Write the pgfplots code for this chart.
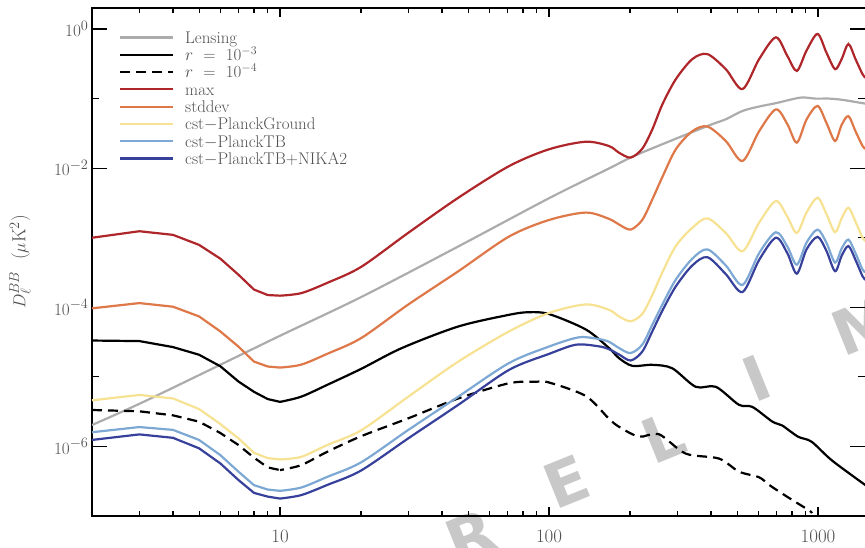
\documentclass[border=0pt]{standalone}
\usepackage{fontspec}
\usepackage{pgfplots}
\pgfplotsset{compat=1.18}
\newfontfamily\wmfont{DejaVu Sans}
\definecolor{clens}{RGB}{172,172,172}
\definecolor{cmax}{RGB}{175,38,42}
\definecolor{cstd}{RGB}{222,120,72}
\definecolor{cground}{RGB}{246,226,146}
\definecolor{ctb}{RGB}{125,168,212}
\definecolor{cnika}{RGB}{55,65,155}
\definecolor{txt}{RGB}{80,80,80}
\definecolor{wm}{RGB}{200,200,200}
\begin{document}
\begin{tikzpicture}
% watermark letters (PRELIMINARY)
\begin{scope}[every node/.style={font=\wmfont\bfseries\fontsize{62}{62}\selectfont, text=wm, rotate=22, inner sep=0pt}]
\node at (283bp,-76bp) {P};
\node at (379bp,-21bp) {R};
\node at (474.7bp,34.3bp) {E};
\node at (571bp,79bp) {L};
\node at (664.7bp,138bp) {I};
\node at (772bp,191bp) {M};
\end{scope}
\begin{axis}[
  at={(0bp,0bp)}, anchor=south west,
  scale only axis, width=773.4bp, height=507.9bp,
  xmode=log, ymode=log,
  xmin=2, xmax=1500, ymin=1e-7, ymax=2,
  xtick={10,100,1000}, xticklabels={10,100,1000},
  minor xtick={3,4,5,6,7,8,9,20,30,40,50,60,70,80,90,200,300,400,500,600,700,800,900},
  ytick={1e-6,1e-4,1e-2,1},
  minor ytick={1e-7,1e-5,1e-3,1e-1},
  tick align=inside, tick pos=both,
  major tick length=15bp, minor tick length=7bp,
  major x tick style={/pgfplots/major tick length=9bp},
  minor x tick style={/pgfplots/minor tick length=5bp},
  every tick/.style={black, line width=1.1bp},
  axis line style={black, line width=1.2bp},
  tick label style={font=\fontsize{19}{19}\selectfont, text=txt},
  xticklabel style={yshift=-10bp},
  ylabel={$D_\ell^{BB}$\ \ ($\mu$K$^2$)},
  ylabel style={at={(axis description cs:-0.0931,0.5)}, anchor=center, font=\fontsize{19}{19}\selectfont, text=txt},
  every axis plot/.append style={line width=2.2bp},
  no markers,
  legend cell align=left,
  legend image code/.code={\draw[#1] (0bp,1.65bp) -- (53bp,1.65bp);},
  legend style={at={(0,1)}, anchor=north west, xshift=27bp, yshift=-23.15bp,
    draw=none, fill=none, inner sep=0pt, outer sep=0pt, row sep=1.6bp, column sep=11bp,
    font=\fontsize{17}{17}\selectfont, text=txt,
    nodes={inner sep=0pt, text height=12bp, text depth=3.7bp, font=\fontsize{17}{17}\selectfont, text=txt}},
]
% Lensing
\addplot[clens, smooth] coordinates {
(2,2.03e-6)(3,4.1e-6)(5,1.06e-5)(10,3.9e-5)(20,1.4e-4)(46,7.5e-4)(100,3.7e-3)(167,9.9e-3)(204,1.46e-2)(272,2.32e-2)(392,4.1e-2)(454,5.05e-2)(524,6.65e-2)(604,7.7e-2)(697,8.6e-2)(802,9.8e-2)(875,0.104)(980,0.1)(1099,0.1)(1231,9.6e-2)(1463,8.6e-2)(1500,8.5e-2)};
\addlegendentry{Lensing}
% r = 1e-3
\addplot[black] coordinates {(2,3.33e-5)(3,3.27e-5)(4,2.68e-5)(5,2.08e-5)(6,1.42e-5)(7,8.6e-6)(8,6.1e-6)(9,4.8e-6)(10,4.37e-6)};
\addlegendentry{$r$\ \ =\ \ 10$^{-3}$}
\addplot[black, smooth, forget plot] coordinates {
(10,4.37e-6)(12,5.2e-6)(15,7.7e-6)(20,1.3e-5)(28.4,2.6e-5)(46,5.3e-5)(71,7.8e-5)(84,8.5e-5)(100,8.0e-5)(137,4.8e-5)(167,2.6e-5)(182,1.86e-5)(204,1.44e-5)(242,1.49e-5)(287,1.33e-5)(351,7.2e-6)(417,7.2e-6)(508,3.97e-6)(570,3.7e-6)(677,2.27e-6)(736,2.0e-6)(843,1.38e-6)(946,1.17e-6)(1126,6.3e-7)(1500,2.78e-7)};
% r = 1e-4
\addplot[black, dash pattern=on 10bp off 6bp] coordinates {(2,3.34e-6)(3,3.2e-6)(4,2.8e-6)(5,2.27e-6)(6,1.56e-6)(7,1.05e-6)(8,6.9e-7)(9,5.0e-7)(10,4.57e-7)};
\addlegendentry{$r$\ \ =\ \ 10$^{-4}$}
\addplot[black, dash pattern=on 10bp off 6bp, dash phase=6bp, smooth, forget plot] coordinates {
(10,4.57e-7)(12,5.4e-7)(15,8.4e-7)(20,1.4e-6)(30,2.54e-6)(46,4.9e-6)(71,8.1e-6)(89,8.5e-6)(100,8.3e-6)(137,5.3e-6)(167,2.5e-6)(182,1.92e-6)(216,1.38e-6)(256,1.5e-6)(322,7.9e-7)(428,6.7e-7)(508,4.35e-7)(604,3.6e-7)(658,2.8e-7)(736,2.1e-7)(802,1.7e-7)(927,1.2e-7)(950,1.1e-7)};
% max
\addplot[cmax] coordinates {(2,1.0e-3)(3,1.24e-3)(4,1.1e-3)(5,7.9e-4)(6,5.0e-4)(7,2.95e-4)(8,1.8e-4)(9,1.5e-4)(10,1.47e-4)};
\addlegendentry{max}
\addplot[cmax, smooth, forget plot] coordinates {
(10,1.47e-4)(12,1.6e-4)(15,2.25e-4)(20,3.8e-4)(30,1.18e-3)(46,3.76e-3)(71,1.07e-2)(100,1.87e-2)(137,2.4e-2)(167,2.08e-2)(182,1.67e-2)(201,1.42e-2)(222,1.9e-2)(242,3.6e-2)(264,8.3e-2)(296,0.19)(341,0.37)(388,0.436)(454,0.265)(524,0.137)(604,0.37)(697,0.76)(769,0.41)(834,0.25)(906,0.49)(996,0.85)(1074,0.46)(1157,0.265)(1224,0.37)(1297,0.61)(1378,0.37)(1463,0.225)(1500,0.2)};
% stddev
\addplot[cstd] coordinates {(2,9.66e-5)(3,1.15e-4)(4,1.02e-4)(5,7.4e-5)(6,4.5e-5)(7,2.73e-5)(8,1.66e-5)(9,1.41e-5)(10,1.36e-5)};
\addlegendentry{stddev}
\addplot[cstd, smooth, forget plot] coordinates {
(10,1.36e-5)(12,1.5e-5)(15,2.15e-5)(20,3.6e-5)(30,1.1e-4)(46,3.3e-4)(71,1.04e-3)(100,1.8e-3)(137,2.3e-3)(167,1.87e-3)(182,1.55e-3)(201,1.31e-3)(222,1.8e-3)(242,3.55e-3)(264,7.5e-3)(296,1.87e-2)(341,3.4e-2)(388,3.97e-2)(454,2.46e-2)(524,1.27e-2)(604,3.4e-2)(697,7.0e-2)(769,4.3e-2)(834,2.33e-2)(906,5.0e-2)(996,7.85e-2)(1074,4.5e-2)(1157,2.46e-2)(1224,4.2e-2)(1297,5.6e-2)(1378,3.4e-2)(1463,2.09e-2)(1500,1.9e-2)};
% cst-PlanckGround
\addplot[cground] coordinates {(2,4.6e-6)(3,5.5e-6)(4,4.9e-6)(5,3.45e-6)(6,2.1e-6)(7,1.31e-6)(8,8.1e-7)(9,6.8e-7)(10,6.5e-7)};
\addlegendentry{cst$-$PlanckGround}
\addplot[cground, smooth, forget plot] coordinates {
(10,6.5e-7)(12,7.1e-7)(15,1.05e-6)(20,1.7e-6)(30,5.2e-6)(46,1.66e-5)(71,4.5e-5)(100,8.3e-5)(137,1.1e-4)(167,9.2e-5)(182,7.4e-5)(201,6.3e-5)(222,8.0e-5)(242,1.5e-4)(264,3.2e-4)(296,7.6e-4)(341,1.39e-3)(388,1.9e-3)(454,1.17e-3)(524,6.4e-4)(604,1.65e-3)(697,3.37e-3)(769,2.0e-3)(834,1.17e-3)(906,2.3e-3)(996,3.76e-3)(1074,2.2e-3)(1157,1.2e-3)(1224,1.9e-3)(1297,2.7e-3)(1378,1.7e-3)(1463,1.0e-3)(1500,9e-4)};
% cst-PlanckTB
\addplot[ctb] coordinates {(2,1.6e-6)(3,1.9e-6)(4,1.73e-6)(5,1.24e-6)(6,7.5e-7)(7,4.35e-7)(8,2.78e-7)(9,2.4e-7)(10,2.3e-7)};
\addlegendentry{cst$-$PlanckTB}
\addplot[ctb, smooth, forget plot] coordinates {
(10,2.3e-7)(12,2.57e-7)(15,3.66e-7)(20,5.9e-7)(30,1.73e-6)(46,5.2e-6)(71,1.58e-5)(100,2.73e-5)(129,3.7e-5)(153,3.5e-5)(167,3.2e-5)(182,2.6e-5)(201,2.2e-5)(222,2.9e-5)(242,5.6e-5)(264,1.1e-4)(296,2.5e-4)(341,5.0e-4)(388,6.8e-4)(454,4.0e-4)(524,2.1e-4)(604,6.0e-4)(697,1.2e-3)(769,7.5e-4)(834,4.1e-4)(906,8.5e-4)(996,1.31e-3)(1074,8.5e-4)(1157,4.4e-4)(1224,7.0e-4)(1297,9.4e-4)(1378,6.0e-4)(1463,3.5e-4)(1500,3.2e-4)};
% cst-PlanckTB+NIKA2
\addplot[cnika] coordinates {(2,1.24e-6)(3,1.49e-6)(4,1.33e-6)(5,9.4e-7)(6,5.7e-7)(7,3.3e-7)(8,2.15e-7)(9,1.9e-7)(10,1.78e-7)};
\addlegendentry{cst$-$PlanckTB+NIKA2}
\addplot[cnika, smooth, forget plot] coordinates {
(10,1.78e-7)(12,2.0e-7)(15,2.8e-7)(20,4.5e-7)(30,1.31e-6)(46,3.97e-6)(71,1.26e-5)(100,2.14e-5)(126,2.9e-5)(153,2.75e-5)(167,2.5e-5)(182,2.1e-5)(201,1.72e-5)(222,2.3e-5)(242,4.5e-5)(264,9.0e-5)(296,2.0e-4)(341,4.0e-4)(388,5.25e-4)(454,3.0e-4)(524,1.66e-4)(604,4.8e-4)(697,1.0e-3)(769,6.0e-4)(834,3.05e-4)(906,6.8e-4)(996,1.03e-3)(1074,6.5e-4)(1157,3.3e-4)(1224,5.5e-4)(1297,7.6e-4)(1378,4.8e-4)(1463,2.8e-4)(1500,2.5e-4)};
\end{axis}
\pgfresetboundingbox
\useasboundingbox (-92bp,-32bp) rectangle (773bp,516bp);
\end{tikzpicture}
\end{document}
